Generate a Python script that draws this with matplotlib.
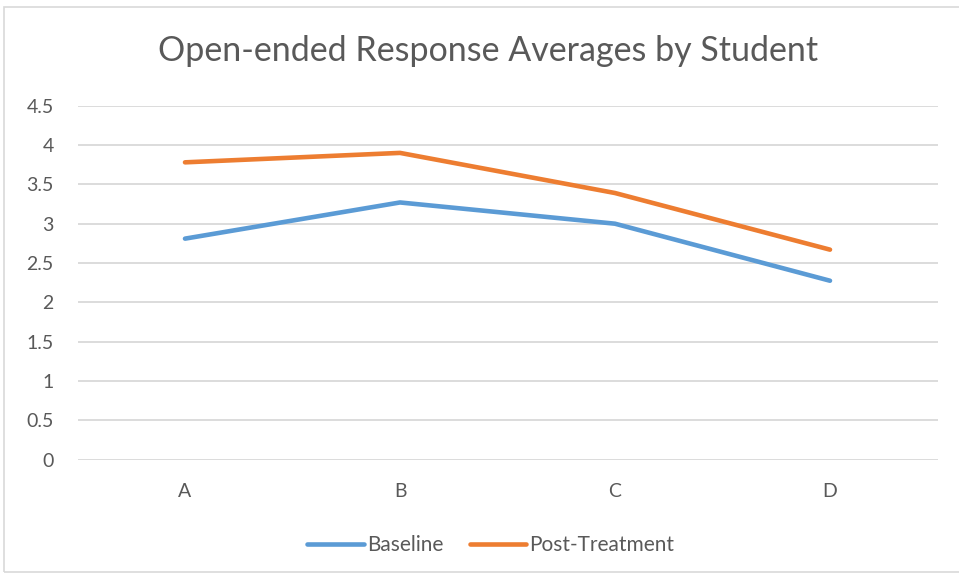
import matplotlib
matplotlib.use("Agg")
import matplotlib.pyplot as plt
from matplotlib.patches import Rectangle

categories = ["A", "B", "C", "D"]
baseline = [2.81, 3.27, 3.00, 2.275]
post_treatment = [3.78, 3.90, 3.39, 2.67]
yticks = [0, 0.5, 1, 1.5, 2, 2.5, 3, 3.5, 4, 4.5]
ytick_labels = ["0", "0.5", "1", "1.5", "2", "2.5", "3", "3.5", "4", "4.5"]

plt.rcParams['font.family'] = ['Lato', 'DejaVu Sans']
text_color = "#595959"

fig = plt.figure(figsize=(9.59, 5.81), dpi=100)
fig.patches.append(Rectangle((4/959, 1-572/581), 1.0, 565/581, transform=fig.transFigure,
                             fill=False, edgecolor="#d9d9d9", linewidth=1.2, zorder=0))
ax = fig.add_axes([77.5/959, 1-459.7/581, (937.5-77.5)/959, (459.7-105.7)/581])

x = list(range(len(categories)))
ax.plot(x, baseline, color="#5b9bd5", lw=3.3, solid_capstyle="round", solid_joinstyle="round", label="Baseline", zorder=3)
ax.plot(x, post_treatment, color="#ed7d31", lw=3.3, solid_capstyle="round", solid_joinstyle="round", label="Post-Treatment", zorder=3)

ax.set_xlim(-0.5, 3.5)
ax.set_ylim(0, 4.5)
ax.set_xticks(x)
ax.set_xticklabels(categories)
ax.set_yticks(yticks)
ax.set_yticklabels(ytick_labels)
ax.tick_params(axis="both", length=0, labelsize=14, colors=text_color)
ax.tick_params(axis="y", pad=17)
ax.tick_params(axis="x", pad=17)
for s in ax.spines.values():
    s.set_visible(False)
ax.grid(axis="y", color="#d9d9d9", lw=1.3, zorder=0)
ax.set_axisbelow(True)

fig.text(488/959, 1-51/581, "Open-ended Response Averages by Student", ha="center", va="center",
         fontsize=24.5, color=text_color)

fig.legend(loc="center", bbox_to_anchor=(491/959, 1-545/581), ncol=2, frameon=False,
           fontsize=15, labelcolor=text_color, handlelength=2.7, handletextpad=0.15,
           columnspacing=1.3)

fig.savefig("out.png", dpi=100)
